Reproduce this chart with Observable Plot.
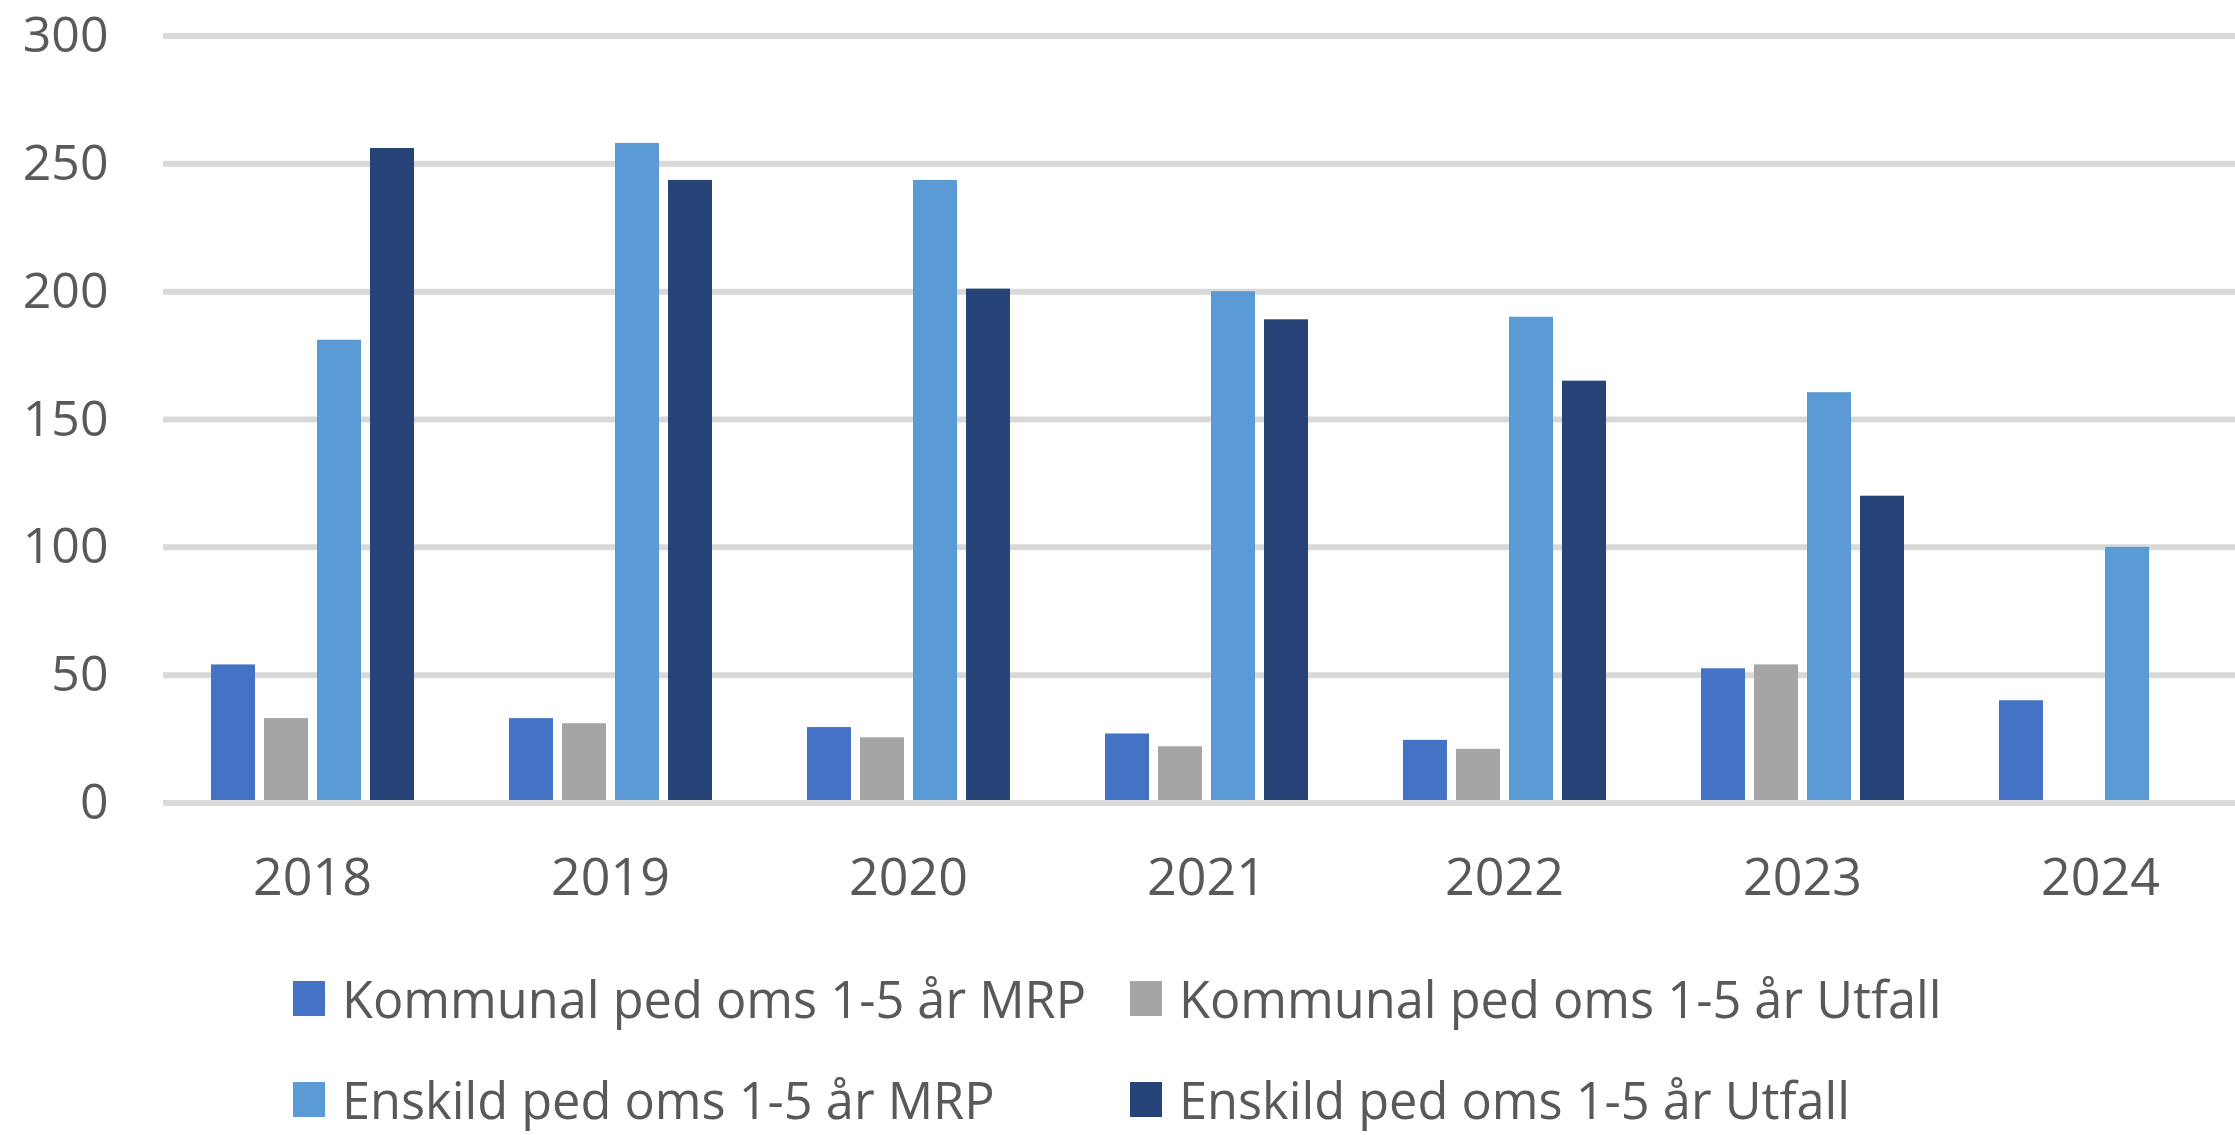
<!DOCTYPE html>
<html>
<head>
<meta charset="utf-8">
<script src="https://cdn.jsdelivr.net/npm/d3@7"></script>
<script src="https://cdn.jsdelivr.net/npm/@observablehq/plot@0.6"></script>
<style>
  html, body { margin: 0; padding: 0; background: #ffffff; }
  #chart svg { display: block; overflow: hidden; }
  #chart svg [aria-label^="fx-axis"] text { font-size: 52px; }
  .legend {
    display: grid;
    grid-template-columns: 837px auto;
    grid-auto-rows: 69px;
    row-gap: 32px;
    padding-left: 293px;
    padding-top: 24px;
    font-family: "Open Sans", "Noto Sans", sans-serif;
    font-size: 50.5px;
    color: #595959;
    line-height: 69px;
  }
  .legend .item { display: flex; align-items: center; white-space: nowrap; height: 69px; }
  .legend .sw { width: 32px; height: 35px; margin-right: 17px; flex: none; }
</style>
</head>
<body>
<div id="chart"></div>
<div class="legend" id="legend"></div>
<script>
const years = ["2018", "2019", "2020", "2021", "2022", "2023", "2024"];
const seriesNames = [
  "Kommunal ped oms 1-5 år MRP",
  "Kommunal ped oms 1-5 år Utfall",
  "Enskild ped oms 1-5 år MRP",
  "Enskild ped oms 1-5 år Utfall"
];
const kommunalMRP    = [54, 33, 29.5, 27, 24.5, 52.5, 40];
const kommunalUtfall = [33, 31, 25.5, 22, 21, 54, null];
const enskildMRP     = [181, 258, 243.5, 200, 190, 160.5, 100];
const enskildUtfall  = [256, 243.5, 201, 189, 165, 120, null];
const colors = ["#4472C4", "#A5A5A5", "#5B9BD5", "#264478"];
const yTicks = [0, 50, 100, 150, 200, 250, 300];

const seriesValues = [kommunalMRP, kommunalUtfall, enskildMRP, enskildUtfall];
const data = years.flatMap((year, i) =>
  seriesNames.map((s, j) => ({ year, series: s, value: seriesValues[j][i] }))
);

const chart = Plot.plot({
  width: 2235,
  height: 940,
  marginLeft: 160,
  marginRight: -16,
  marginTop: 35.5,
  marginBottom: 137.5,
  style: {
    fontFamily: "'Open Sans', 'Noto Sans', sans-serif",
    fontSize: "50px",
    color: "#595959",
    background: "#ffffff"
  },
  fx: { domain: years, padding: 0, axis: "bottom", tickSize: 0, tickPadding: 55, label: null },
  x: { domain: seriesNames, paddingInner: 0.17, paddingOuter: 0.86, axis: null },
  y: { domain: [0, 300], ticks: yTicks, tickSize: 0, tickPadding: 55, label: null, tickFormat: d3.format("d") },
  color: { domain: seriesNames, range: colors },
  marks: [
    Plot.ruleY(yTicks.filter(d => d !== 0), { stroke: "#d9d9d9", strokeWidth: 6 }),
    Plot.barY(data, { fx: "year", x: "series", y: "value", fill: "series" }),
    Plot.ruleY([0], { stroke: "#d9d9d9", strokeWidth: 6 })
  ]
});
document.getElementById("chart").appendChild(chart);

const legend = document.getElementById("legend");
seriesNames.forEach((s, j) => {
  const item = document.createElement("div");
  item.className = "item";
  const sw = document.createElement("span");
  sw.className = "sw";
  sw.style.background = colors[j];
  const label = document.createElement("span");
  label.textContent = s;
  item.appendChild(sw);
  item.appendChild(label);
  legend.appendChild(item);
});
</script>
</body>
</html>
